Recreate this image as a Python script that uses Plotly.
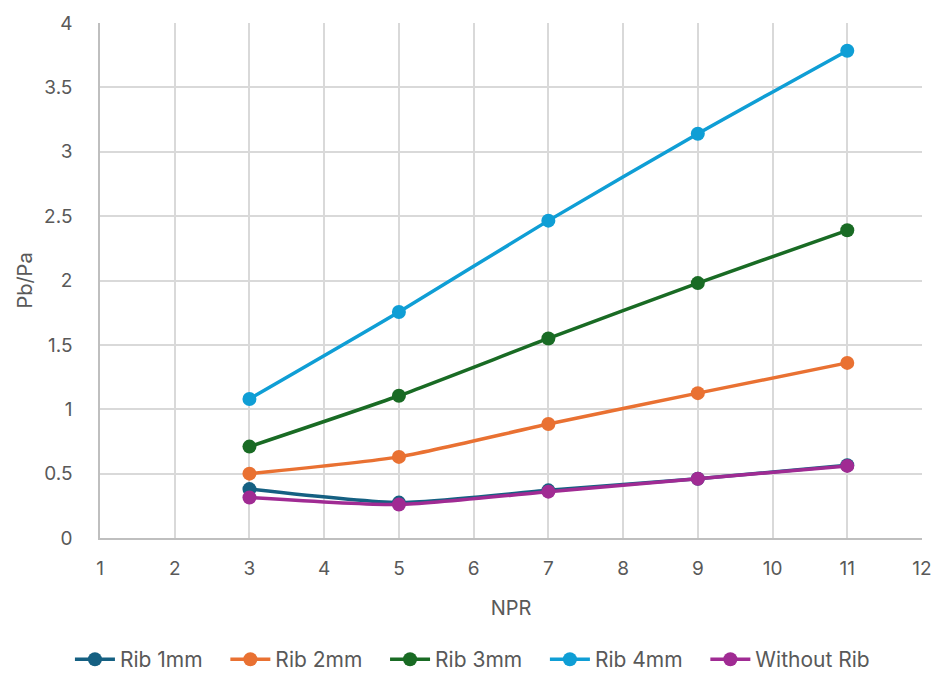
import plotly.graph_objects as go

npr = [3, 5, 7, 9, 11]
rib1 = [0.38, 0.275, 0.37, 0.46, 0.565]
rib2 = [0.50, 0.63, 0.885, 1.125, 1.36]
rib3 = [0.71, 1.105, 1.55, 1.98, 2.39]
rib4 = [1.08, 1.755, 2.465, 3.14, 3.785]
norib = [0.315, 0.26, 0.36, 0.46, 0.56]

series = [
    ("Rib 1mm", rib1, "#156082"),
    ("Rib 2mm", rib2, "#E97132"),
    ("Rib 3mm", rib3, "#196B24"),
    ("Rib 4mm", rib4, "#0F9ED5"),
    ("Without Rib", norib, "#A02B93"),
]

fig = go.Figure()
for name, vals, col in series:
    fig.add_trace(go.Scatter(
        x=npr, y=vals, name=name + "\u00a0" * 3, mode="lines+markers",
        line=dict(color=col, width=3.5, shape="spline", smoothing=0.6),
        marker=dict(color=col, size=14),
    ))

font = "Inter, Open Sans, sans-serif"
fig.update_layout(
    width=944, height=673,
    margin=dict(l=100, r=16, t=22, b=135),
    paper_bgcolor="white", plot_bgcolor="white",
    font=dict(family=font, size=19, color="#595959"),
    showlegend=True,
    legend=dict(orientation="h", x=0.51, xanchor="center", xref="container",
                y=0.02, yanchor="middle", yref="container",
                font=dict(size=21, color="#595959"), itemwidth=40,
                traceorder="normal"),
    xaxis=dict(range=[1, 12], dtick=1, tick0=1, showgrid=True, gridcolor="#d9d9d9",
               gridwidth=1.5, zeroline=False, showline=True, linecolor="#bfbfbf",
               linewidth=1.5, ticks="", ticklabelstandoff=12,
               title=dict(text="NPR", font=dict(size=20, color="#595959"), standoff=22)),
    yaxis=dict(range=[0, 4], dtick=0.5, showgrid=True, gridcolor="#d9d9d9",
               gridwidth=1.5, zeroline=False, showline=True, linecolor="#bfbfbf",
               linewidth=1.5, ticks="", ticklabelstandoff=22,
               title=dict(text="Pb/Pa", font=dict(size=20, color="#595959"), standoff=6)),
)

fig.write_html("out.html")
